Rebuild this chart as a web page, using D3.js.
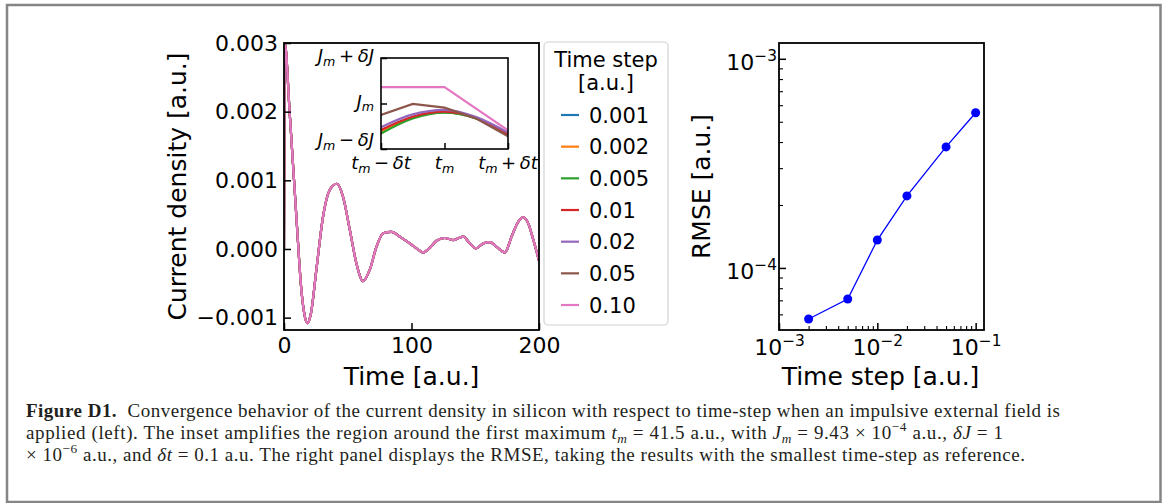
<!DOCTYPE html>
<html>
<head>
<meta charset="utf-8">
<script src="https://cdn.jsdelivr.net/npm/d3@7"></script>
<style>
  body { margin: 0; background: #fff; }
</style>
</head>
<body>
<div id="chart"></div>
<script>
// main panel: current density vs time (all time steps overlap at this scale)
const timeAU = [0, 0.6, 4.5, 9.7, 13.6, 16, 18.3, 21, 25.4, 30.6, 35.9, 41.5, 46.3, 51.6, 56.8, 62, 67.3,
  72.5, 77.8, 84.3, 90.8, 98.7, 104, 109, 114, 119.6, 126, 132.7, 140.6, 145.8, 150.5, 156.3, 161.5,
  166.8, 173.3, 178.5, 183.8, 187.7, 191.6, 195.6, 200];
const currentDensity = [0, 0.0030, 0.00197, 0.00047, -0.00059, -0.00095, -0.00108, -0.00095, -0.00030,
  0.00047, 0.00086, 0.00095, 0.00076, 0.00028, -0.00021, -0.00047, -0.00030, 0.00003, 0.00023, 0.00025,
  0.00018, 0.00008, 0.00001, -0.00005, 0.00001, 0.00012, 0.00016, 0.00013, 0.00018, 0.00008, 0.00001,
  0.00008, 0.00010, 0.00003, -0.00005, 0.00018, 0.00040, 0.00046, 0.00037, 0.00013, -0.00017];

const stepLabels = ["0.001", "0.002", "0.005", "0.01", "0.02", "0.05", "0.10"];
const stepColors = ["#1f77b4", "#ff7f0e", "#2ca02c", "#d62728", "#9467bd", "#8c564b", "#e377c2"];

// inset: offsets in units of dt (x) and dJ (y) around the first maximum
const insetXFine = [-1, -0.5, 0, 0.5, 1];
const insetXCoarse = [-1, 0, 1];
const inset001 = [-0.60, -0.30, -0.19, -0.33, -0.68];
const inset002 = [-0.61, -0.31, -0.19, -0.33, -0.68];
const inset005 = [-0.66, -0.33, -0.20, -0.33, -0.69];
const inset01 = [-0.58, -0.29, -0.18, -0.32, -0.67];
const inset02 = [-0.52, -0.24, -0.14, -0.30, -0.64];
const inset05 = [-0.25, -0.01, -0.09, -0.33, -0.72];
const inset10 = [0.36, 0.36, -0.59];
const insetSeries = [inset001, inset002, inset005, inset01, inset02, inset05, inset10];

// right panel: RMSE vs time step
const rmseSteps = [0.002, 0.005, 0.01, 0.02, 0.05, 0.1];
const rmseValues = [5.7e-5, 7.1e-5, 1.36e-4, 2.21e-4, 3.79e-4, 5.52e-4];

const yTicksLeft = [-0.001, 0, 0.001, 0.002, 0.003];
const xTicksLeft = [0, 100, 200];
const xTicksLog = [1e-3, 1e-2, 1e-1];
const yTicksLog = [1e-4, 1e-3];

const W = 1165, H = 503;
const FS = 22;
const SANS = '"DejaVu Sans", sans-serif';

const svg = d3.select('#chart').append('svg')
    .attr('width', W).attr('height', H)
    .style('font-family', SANS);

// figure frame
svg.append('rect')
    .attr('x', 7).attr('y', 5).attr('width', 1153.5).attr('height', 497)
    .attr('fill', 'none').attr('stroke', '#858585').attr('stroke-width', 2.5);

function richText(sel, parts, fs) {
  let shift = 0;
  parts.forEach(([str, f]) => {
    const ts = sel.append('tspan').text(str);
    let target = 0, small = false;
    if (f.includes('_')) { target = 0.22 * fs; small = true; }
    if (f.includes('^')) { target = -0.42 * fs; small = true; }
    if (target - shift !== 0) ts.attr('dy', target - shift);
    shift = target;
    if (small) ts.attr('font-size', fs * 0.7);
    if (f.includes('i')) ts.attr('font-style', 'italic');
    if (f.includes('b')) ts.attr('font-weight', 'bold');
  });
}

function styleAxis(g, fs) {
  g.attr('font-family', null);
  g.select('.domain').remove();
  g.selectAll('.tick line').attr('stroke', '#000').attr('stroke-width', 1.5);
  g.selectAll('.tick text').attr('fill', '#000')
      .style('font-family', SANS).style('font-size', fs + 'px');
}

// ---------- left panel ----------
const L = {left: 284, right: 539, top: 43, bottom: 330};
const x = d3.scaleLinear().domain([0, 200]).range([L.left, L.right]);
const y = d3.scaleLinear().domain([-0.00118, 0.003]).range([L.bottom, L.top]);

svg.append('clipPath').attr('id', 'clipL').append('rect')
    .attr('x', L.left).attr('y', L.top).attr('width', L.right - L.left).attr('height', L.bottom - L.top);

const mainLine = d3.line()
    .x((d, i) => x(timeAU[i]))
    .y(d => y(d))
    .curve(d3.curveMonotoneX);

const gL = svg.append('g').attr('clip-path', 'url(#clipL)');
stepColors.forEach(c => {
  gL.append('path')
      .datum(currentDensity)
      .attr('d', mainLine)
      .attr('fill', 'none')
      .attr('stroke', c)
      .attr('stroke-width', 2.2);
});

const axYL = svg.append('g').attr('transform', `translate(${L.left},0)`)
    .call(d3.axisLeft(y).tickValues(yTicksLeft).tickFormat(d3.format('.3f'))
      .tickSizeInner(-7).tickSizeOuter(0).tickPadding(6));
styleAxis(axYL, FS);

const axXL = svg.append('g').attr('transform', `translate(0,${L.bottom})`)
    .call(d3.axisBottom(x).tickValues(xTicksLeft).tickFormat(d3.format('d'))
      .tickSizeInner(-7).tickSizeOuter(0).tickPadding(7.5));
styleAxis(axXL, FS);

svg.append('rect')
    .attr('x', L.left).attr('y', L.top).attr('width', L.right - L.left).attr('height', L.bottom - L.top)
    .attr('fill', 'none').attr('stroke', '#000').attr('stroke-width', 1.8);

svg.append('text')
    .attr('transform', `translate(186,${(L.top + L.bottom) / 2}) rotate(-90)`)
    .attr('text-anchor', 'middle').style('font-size', '25px')
    .text('Current density [a.u.]');

svg.append('text')
    .attr('x', (L.left + L.right) / 2).attr('y', 385)
    .attr('text-anchor', 'middle').style('font-size', '25px')
    .text('Time [a.u.]');

// ---------- inset ----------
const I = {left: 381, right: 508, top: 58, bottom: 149};
const ix = d3.scaleLinear().domain([-1, 1]).range([I.left, I.right]);
const iy = d3.scaleLinear().domain([-1, 1]).range([I.bottom, I.top]);

svg.append('rect')
    .attr('x', I.left).attr('y', I.top).attr('width', I.right - I.left).attr('height', I.bottom - I.top)
    .attr('fill', '#fff');

svg.append('clipPath').attr('id', 'clipI').append('rect')
    .attr('x', I.left).attr('y', I.top).attr('width', I.right - I.left).attr('height', I.bottom - I.top);

const gI = svg.append('g').attr('clip-path', 'url(#clipI)');
insetSeries.forEach((vals, k) => {
  const xs = vals.length === insetXFine.length ? insetXFine : insetXCoarse;
  const coarse = +stepLabels[k] >= 0.05;
  const ln = d3.line()
      .x((d, i) => ix(xs[i]))
      .y(d => iy(d))
      .curve(coarse ? d3.curveLinear : d3.curveMonotoneX);
  gI.append('path')
      .datum(vals)
      .attr('d', ln)
      .attr('fill', 'none')
      .attr('stroke', stepColors[k])
      .attr('stroke-width', 2.2);
});

const axYI = svg.append('g').attr('transform', `translate(${I.left},0)`)
    .call(d3.axisLeft(iy).tickValues([-1, 0, 1]).tickFormat('').tickSizeInner(-6).tickSizeOuter(0));
styleAxis(axYI, 18);
const axXI = svg.append('g').attr('transform', `translate(0,${I.bottom})`)
    .call(d3.axisBottom(ix).tickValues([-1, 0, 1]).tickFormat('').tickSizeInner(-6).tickSizeOuter(0));
styleAxis(axXI, 18);

svg.append('rect')
    .attr('x', I.left).attr('y', I.top).attr('width', I.right - I.left).attr('height', I.bottom - I.top)
    .attr('fill', 'none').attr('stroke', '#000').attr('stroke-width', 1.6);

const IFS = 18;
const insetYLabels = [
  [1, 4, [['J', 'i'], ['m', 'i_'], ['\u2009+\u2009', ''], ['δJ', 'i']]],
  [0, 4, [['J', 'i'], ['m', 'i_']]],
  [-1, -3, [['J', 'i'], ['m', 'i_'], ['\u2009−\u2009', ''], ['δJ', 'i']]]
];
insetYLabels.forEach(([v, off, parts]) => {
  const t = svg.append('text')
      .attr('x', I.left - 7).attr('y', iy(v) + off)
      .attr('text-anchor', 'end').style('font-size', IFS + 'px');
  richText(t, parts, IFS);
});
const insetXLabels = [
  [-1, [['t', 'i'], ['m', 'i_'], ['\u2009−\u2009', ''], ['δt', 'i']]],
  [0, [['t', 'i'], ['m', 'i_']]],
  [1, [['t', 'i'], ['m', 'i_'], ['\u2009+\u2009', ''], ['δt', 'i']]]
];
insetXLabels.forEach(([v, parts]) => {
  const t = svg.append('text')
      .attr('x', ix(v)).attr('y', I.bottom + 20)
      .attr('text-anchor', 'middle').style('font-size', IFS + 'px');
  richText(t, parts, IFS);
});

// ---------- legend ----------
const lg = svg.append('g');
lg.append('rect')
    .attr('x', 544).attr('y', 42).attr('width', 124).attr('height', 283).attr('rx', 4)
    .attr('fill', '#fff').attr('stroke', '#d2d2d2').attr('stroke-width', 1.2);
lg.append('text').attr('x', 606).attr('y', 67).attr('text-anchor', 'middle')
    .style('font-size', '21px').text('Time step');
lg.append('text').attr('x', 606).attr('y', 90).attr('text-anchor', 'middle')
    .style('font-size', '21px').text('[a.u.]');
stepLabels.forEach((s, k) => {
  const cy = 115 + k * 31.67;
  lg.append('line').attr('x1', 561).attr('x2', 579).attr('y1', cy).attr('y2', cy)
      .attr('stroke', stepColors[k]).attr('stroke-width', 2.2);
  lg.append('text').attr('x', 589).attr('y', cy + 7.6)
      .style('font-size', '21px').text(s);
});

// ---------- right panel ----------
const R = {left: 779, right: 984, top: 43, bottom: 330};
const rx = d3.scaleLog().domain([1e-3, 0.1216]).range([R.left, R.right]);
const ry = d3.scaleLog().domain([5.05e-5, 1.19e-3]).range([R.bottom, R.top]);

const minorX = [];
[1e-3, 1e-2].forEach(b => { for (let m = 2; m <= 9; m++) minorX.push(b * m); });
const minorY = [];
[1e-5, 1e-4].forEach(b => { for (let m = 2; m <= 9; m++) { const v = b * m; if (v >= 5.05e-5 && v <= 1.19e-3) minorY.push(v); } });

const logFmt = d => String(Math.round(Math.log10(d)));

const axXR = svg.append('g').attr('transform', `translate(0,${R.bottom})`)
    .call(d3.axisBottom(rx).tickValues(xTicksLog).tickFormat(logFmt).tickSizeInner(-7).tickSizeOuter(0));
styleAxis(axXR, FS);
axXR.selectAll('.tick text').each(function(d) {
  const t = d3.select(this).text(null).attr('y', 25).attr('dy', null);
  richText(t, [['10', ''], ['−' + Math.abs(Math.round(Math.log10(d))), '^']], FS);
});
const axXRm = svg.append('g').attr('transform', `translate(0,${R.bottom})`)
    .call(d3.axisBottom(rx).tickValues(minorX).tickFormat('').tickSizeInner(-4).tickSizeOuter(0));
styleAxis(axXRm, FS);
axXRm.selectAll('.tick line').attr('stroke-width', 1.1);

const axYR = svg.append('g').attr('transform', `translate(${R.left},0)`)
    .call(d3.axisLeft(ry).tickValues(yTicksLog).tickFormat(logFmt).tickSizeInner(-7).tickSizeOuter(0).tickPadding(2));
styleAxis(axYR, FS);
axYR.selectAll('.tick text').each(function(d) {
  const t = d3.select(this).text(null).attr('dy', '0.48em');
  richText(t, [['10', ''], ['−' + Math.abs(Math.round(Math.log10(d))), '^']], FS);
});
const axYRm = svg.append('g').attr('transform', `translate(${R.left},0)`)
    .call(d3.axisLeft(ry).tickValues(minorY).tickFormat('').tickSizeInner(-4).tickSizeOuter(0));
styleAxis(axYRm, FS);
axYRm.selectAll('.tick line').attr('stroke-width', 1.1);

svg.append('path')
    .datum(rmseValues)
    .attr('d', d3.line().x((d, i) => rx(rmseSteps[i])).y(d => ry(d)))
    .attr('fill', 'none').attr('stroke', '#0000ff').attr('stroke-width', 1.3);
svg.selectAll('circle.rmse')
    .data(rmseValues)
    .enter().append('circle')
    .attr('class', 'rmse')
    .attr('cx', (d, i) => rx(rmseSteps[i]))
    .attr('cy', d => ry(d))
    .attr('r', 4.5)
    .attr('fill', '#0000ff');

svg.append('rect')
    .attr('x', R.left).attr('y', R.top).attr('width', R.right - R.left).attr('height', R.bottom - R.top)
    .attr('fill', 'none').attr('stroke', '#000').attr('stroke-width', 1.8);

svg.append('text')
    .attr('transform', `translate(710,${(R.top + R.bottom) / 2}) rotate(-90)`)
    .attr('text-anchor', 'middle').style('font-size', '25px')
    .text('RMSE [a.u.]');
svg.append('text')
    .attr('x', (R.left + R.right) / 2 - 1).attr('y', 385)
    .attr('text-anchor', 'middle').style('font-size', '25px')
    .text('Time step [a.u.]');

// ---------- caption ----------
const CFS = 19;
const captionWidths = [1034, 977, 999];
const captionLines = [
  [['Figure D1.', 'b'], ['  Convergence behavior of the current density in silicon with respect to time-step when an impulsive external field is', '']],
  [['applied (left). The inset amplifies the region around the first maximum ', ''], ['t', 'i'], ['m', 'i_'],
   [' = 41.5 a.u., with ', ''], ['J', 'i'], ['m', 'i_'], [' = 9.43 × 10', ''], ['−4', '^'], [' a.u., ', ''], ['δJ', 'i'], [' = 1', '']],
  [['× 10', ''], ['−6', '^'], [' a.u., and ', ''], ['δt', 'i'],
   [' = 0.1 a.u. The right panel displays the RMSE, taking the results with the smallest time-step as reference.', '']]
];
captionLines.forEach((parts, k) => {
  const t = svg.append('text')
      .attr('x', 26).attr('y', 417 + k * 22)
      .attr('fill', '#231f20')
      .attr('textLength', captionWidths[k])
      .attr('lengthAdjust', 'spacing')
      .style('font-family', '"Liberation Serif", "DejaVu Serif", serif')
      .style('font-size', CFS + 'px')
      .style('white-space', 'pre');
  richText(t, parts, CFS);
});
</script>
</body>
</html>
